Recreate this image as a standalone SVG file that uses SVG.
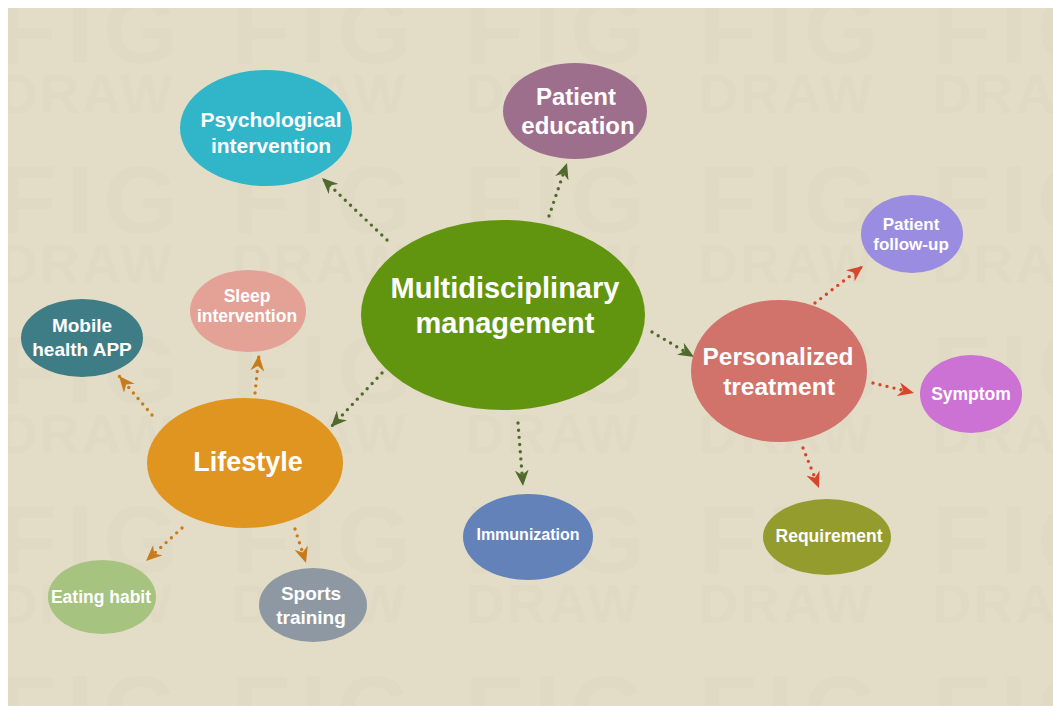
<svg xmlns="http://www.w3.org/2000/svg" width="1053" height="706" viewBox="0 0 1053 706">
  <style>
    .lbl { font-family: "Liberation Sans", Arial, sans-serif; font-weight: bold; fill: #ffffff; text-anchor: middle; }
    .wm { font-family: "Liberation Sans", Arial, sans-serif; font-weight: bold; fill: #e0d9c3; }
    .dot { fill: none; stroke-width: 3.4; stroke-linecap: round; stroke-dasharray: 0 7.2; }
    .g { stroke: #4f6a2c; }
    .o { stroke: #c87b1c; }
    .r { stroke: #d8452d; }
  </style>
  <defs>
    <!-- faint tiled FIG DRAW background lettering -->
    <pattern id="wmTile" patternUnits="userSpaceOnUse" x="-6" y="-7" width="233.5" height="170">
      <text class="wm" x="4" y="70" font-size="96" letter-spacing="10">FIG</text>
      <text class="wm" x="4" y="120" font-size="55" letter-spacing="2">DRAW</text>
    </pattern>
    <marker id="arrG" viewBox="0 0 16 14" refX="16" refY="7" markerWidth="16" markerHeight="14" markerUnits="userSpaceOnUse" orient="auto">
      <path d="M0,0 L16,7 L0,14 L5,7 Z" fill="#4f6a2c"/>
    </marker>
    <marker id="arrO" viewBox="0 0 16 14" refX="16" refY="7" markerWidth="16" markerHeight="14" markerUnits="userSpaceOnUse" orient="auto">
      <path d="M0,0 L16,7 L0,14 L5,7 Z" fill="#c87b1c"/>
    </marker>
    <marker id="arrR" viewBox="0 0 16 14" refX="16" refY="7" markerWidth="16" markerHeight="14" markerUnits="userSpaceOnUse" orient="auto">
      <path d="M0,0 L16,7 L0,14 L5,7 Z" fill="#d8452d"/>
    </marker>
  </defs>

  <rect x="0" y="0" width="1053" height="706" fill="#ffffff"/>
  <rect x="8" y="8" width="1045" height="698" fill="#e3dcc6"/>
  <rect x="8" y="8" width="1045" height="698" fill="url(#wmTile)"/>

  <!-- connectors -->
  <g id="connectors">
    <path class="dot g" d="M387,240 L322,178" marker-end="url(#arrG)"/>
    <path class="dot g" d="M549,216 L567,163" marker-end="url(#arrG)"/>
    <path class="dot g" d="M652,332 L694,357" marker-end="url(#arrG)"/>
    <path class="dot g" d="M382,373 L331,427" marker-end="url(#arrG)"/>
    <path class="dot g" d="M518,423 L523,486" marker-end="url(#arrG)"/>

    <path class="dot o" d="M152,415 L119,376" marker-end="url(#arrO)"/>
    <path class="dot o" d="M255,393 L259,355" marker-end="url(#arrO)"/>
    <path class="dot o" d="M182,528 L146,561" marker-end="url(#arrO)"/>
    <path class="dot o" d="M295,529 L306,563" marker-end="url(#arrO)"/>

    <path class="dot r" d="M815,303 L863,266" marker-end="url(#arrR)"/>
    <path class="dot r" d="M873,383 L914,393" marker-end="url(#arrR)"/>
    <path class="dot r" d="M803,448 L819,488" marker-end="url(#arrR)"/>
  </g>

  <!-- nodes -->
  <g id="multidisciplinary">
    <ellipse cx="503" cy="315" rx="142" ry="95" fill="#62950f"/>
    <text class="lbl" x="505" y="298" font-size="29">Multidisciplinary</text>
    <text class="lbl" x="505" y="333" font-size="29">management</text>
  </g>
  <g id="psychological">
    <ellipse cx="266" cy="128" rx="86" ry="58" fill="#31b6c9"/>
    <text class="lbl" x="271" y="127" font-size="21">Psychological</text>
    <text class="lbl" x="271" y="153" font-size="21">intervention</text>
  </g>
  <g id="patient-education">
    <ellipse cx="575" cy="111" rx="72" ry="48" fill="#9e6f8c"/>
    <text class="lbl" x="576" y="105" font-size="24">Patient</text>
    <text class="lbl" x="578" y="134" font-size="24">education</text>
  </g>
  <g id="personalized">
    <ellipse cx="779" cy="371" rx="88" ry="71" fill="#d1726b"/>
    <text class="lbl" x="778" y="365" font-size="24.5">Personalized</text>
    <text class="lbl" x="779" y="395" font-size="24.5">treatment</text>
  </g>
  <g id="follow-up">
    <ellipse cx="912" cy="234" rx="51" ry="39" fill="#9a8ce0"/>
    <text class="lbl" x="911" y="230" font-size="17">Patient</text>
    <text class="lbl" x="911" y="250" font-size="17">follow-up</text>
  </g>
  <g id="symptom">
    <ellipse cx="971" cy="394" rx="51" ry="39" fill="#cb72d4"/>
    <text class="lbl" x="971" y="400" font-size="17.5">Symptom</text>
  </g>
  <g id="requirement">
    <ellipse cx="827" cy="537" rx="64" ry="38" fill="#949c2e"/>
    <text class="lbl" x="829" y="542" font-size="17.5">Requirement</text>
  </g>
  <g id="immunization">
    <ellipse cx="528" cy="537" rx="65" ry="43" fill="#6482ba"/>
    <text class="lbl" x="528" y="540" font-size="16">Immunization</text>
  </g>
  <g id="lifestyle">
    <ellipse cx="245" cy="463" rx="98" ry="65" fill="#df951f"/>
    <text class="lbl" x="248" y="471" font-size="27">Lifestyle</text>
  </g>
  <g id="mobile-app">
    <ellipse cx="82" cy="338" rx="61" ry="39" fill="#3f7d86"/>
    <text class="lbl" x="82" y="332" font-size="19">Mobile</text>
    <text class="lbl" x="82" y="356" font-size="19">health APP</text>
  </g>
  <g id="sleep">
    <ellipse cx="248" cy="311" rx="58" ry="41" fill="#e4a196"/>
    <text class="lbl" x="247" y="302" font-size="17.5">Sleep</text>
    <text class="lbl" x="247" y="322" font-size="17.5">intervention</text>
  </g>
  <g id="eating">
    <ellipse cx="102" cy="597" rx="54" ry="37" fill="#a7c380"/>
    <text class="lbl" x="101" y="603" font-size="17.5">Eating habit</text>
  </g>
  <g id="sports">
    <ellipse cx="313" cy="605" rx="54" ry="37" fill="#8d98a3"/>
    <text class="lbl" x="311" y="600" font-size="19">Sports</text>
    <text class="lbl" x="311" y="624" font-size="19">training</text>
  </g>
</svg>
